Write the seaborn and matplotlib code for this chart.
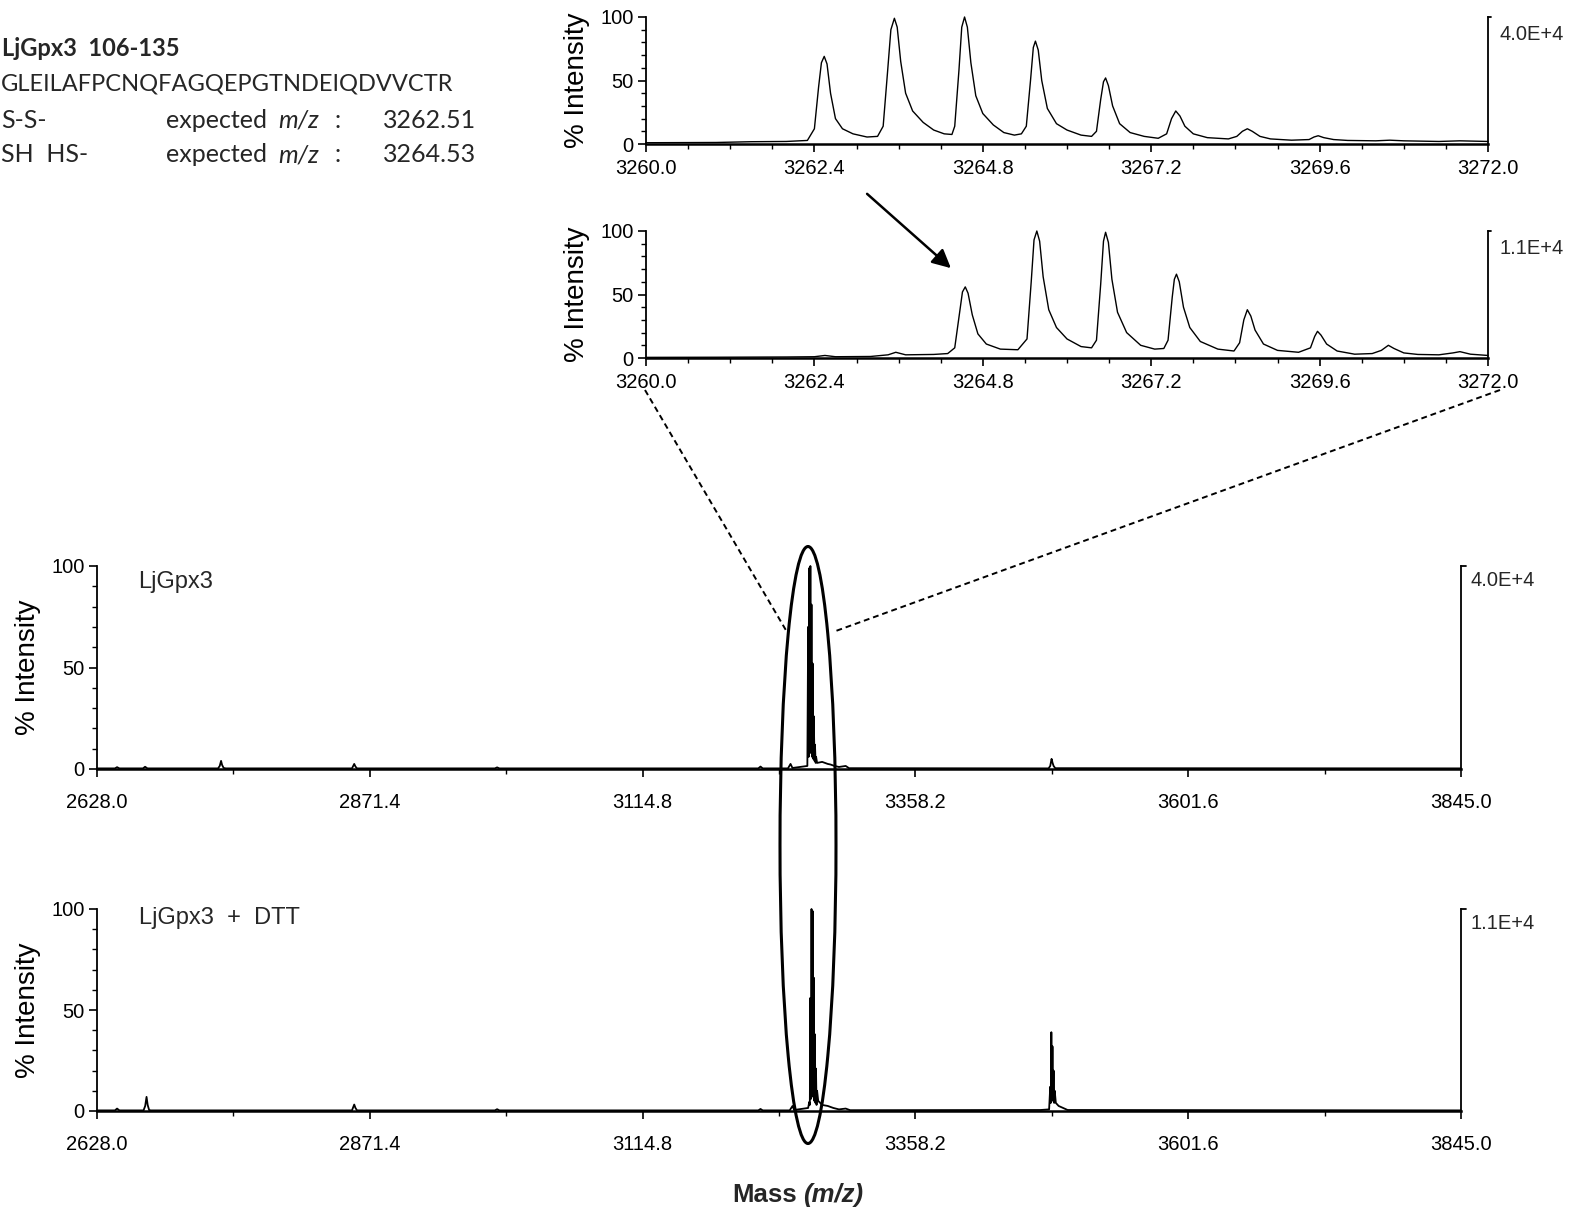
import numpy as np
import matplotlib
matplotlib.use("Agg")
import matplotlib.pyplot as plt
import seaborn as sns
from matplotlib.ticker import AutoMinorLocator, FormatStrFormatter
from matplotlib.lines import Line2D
from matplotlib.patches import Ellipse, FancyArrowPatch

# ---- data (m/z, % intensity) ----
# zoomed isotope envelope, LjGpx3 (oxidised)
zoom_ox_mz = [3260.0, 3261.0, 3261.5, 3262.0,
              3262.3, 3262.40, 3262.46, 3262.50, 3262.54, 3262.58, 3262.63, 3262.70, 3262.80, 3262.95, 3263.15, 3263.3,
              3263.38, 3263.44, 3263.49, 3263.54, 3263.58, 3263.63, 3263.70, 3263.80, 3263.95, 3264.1, 3264.25, 3264.36,
              3264.40, 3264.46, 3264.50, 3264.54, 3264.58, 3264.63, 3264.70, 3264.80, 3264.95, 3265.1, 3265.25, 3265.35,
              3265.42, 3265.48, 3265.52, 3265.55, 3265.59, 3265.64, 3265.72, 3265.85, 3266.0, 3266.2, 3266.35,
              3266.42, 3266.48, 3266.52, 3266.55, 3266.59, 3266.65, 3266.75, 3266.9, 3267.1, 3267.3,
              3267.42, 3267.49, 3267.55, 3267.61, 3267.68, 3267.8, 3268.0, 3268.3,
              3268.42, 3268.5, 3268.57, 3268.64, 3268.75, 3268.9, 3269.2, 3269.45,
              3269.52, 3269.58, 3269.66, 3269.8, 3270.0, 3270.4, 3270.6, 3270.8, 3271.3, 3271.6, 3272.0]
zoom_ox_int = [1.0, 1.2, 1.8, 2.0,
               2.8, 12, 45, 64, 69, 63, 40, 20, 12, 8, 5.5, 6,
               14, 55, 90, 99, 92, 65, 40, 26, 17, 11, 8, 7.5,
               14, 58, 92, 100, 92, 64, 38, 24, 15, 9, 7, 8,
               14, 50, 76, 81, 74, 50, 28, 16, 11, 7, 6,
               10, 35, 49, 52, 46, 30, 16, 9, 6, 4.5,
               8, 20, 26, 22, 14, 8, 5, 4,
               6, 10, 12, 10, 6, 4, 3, 3.5,
               5.5, 6.5, 5, 3.5, 2.8, 2.5, 3, 2.5, 2, 2.5, 2]

# zoomed isotope envelope, LjGpx3 + DTT (reduced)
zoom_red_mz = [3260.0, 3261.0, 3262.0, 3262.4, 3262.55, 3262.7, 3263.2, 3263.45, 3263.56, 3263.7, 3264.1, 3264.3,
               3264.40, 3264.46, 3264.51, 3264.55, 3264.59, 3264.65, 3264.73, 3264.85, 3265.05, 3265.3,
               3265.43, 3265.49, 3265.53, 3265.57, 3265.61, 3265.66, 3265.74, 3265.85, 3266.0, 3266.2, 3266.35,
               3266.42, 3266.48, 3266.52, 3266.55, 3266.59, 3266.64, 3266.72, 3266.85, 3267.05, 3267.25, 3267.38,
               3267.44, 3267.5, 3267.53, 3267.56, 3267.6, 3267.66, 3267.75, 3267.9, 3268.15, 3268.38,
               3268.46, 3268.52, 3268.57, 3268.62, 3268.68, 3268.8, 3269.0, 3269.3,
               3269.47, 3269.53, 3269.57, 3269.62, 3269.7, 3269.85, 3270.1, 3270.35,
               3270.48, 3270.58, 3270.66, 3270.8, 3271.0, 3271.3, 3271.5, 3271.6, 3271.75, 3272.0]
zoom_red_int = [0.5, 0.6, 0.8, 1.0, 2.0, 1.0, 1.2, 2.5, 4.5, 2.5, 2.8, 3.5,
                8, 32, 52, 56, 51, 34, 19, 11, 7, 6.5,
                15, 60, 93, 100, 92, 64, 38, 24, 15, 9, 8,
                14, 58, 92, 99, 91, 62, 36, 20, 10, 7, 7.5,
                14, 48, 62, 66, 60, 40, 24, 13, 7, 5.5,
                12, 30, 38, 33, 22, 11, 6, 4.5,
                8, 17, 21, 18, 11, 5.5, 3, 3.5,
                6, 10, 7.5, 4, 2.8, 2.5, 4, 5, 3, 2]

# full range spectrum, LjGpx3
full_ox_mz = [2628, 2644, 2645.9, 2648, 2669, 2670.9, 2673, 2736, 2737.5, 2738.7,
              2739.6, 2741, 2743, 2855.5, 2857.5, 2858.6, 2860, 2983, 2985, 2987,
              3218, 3220, 3222, 3244.5, 3246.8, 3248.5, 3261.8, 3262.5, 3263.0, 3263.5,
              3264.0, 3264.5, 3265.0, 3265.5, 3266.0, 3266.5, 3267.0, 3267.5, 3268.2, 3268.6,
              3269.2, 3269.6, 3270.5, 3275, 3280, 3282.5, 3286, 3290, 3296, 3299,
              3477, 3478.5, 3479.7, 3480.6, 3481.5, 3483, 3845]
full_ox_int = [0.3, 0.3, 0.9, 0.3, 0.3, 1.1, 0.3, 0.3, 1.5, 4.0,
               2.0, 0.5, 0.3, 0.3, 2.5, 1.2, 0.3, 0.3, 0.8, 0.3,
               0.3, 1.2, 0.3, 0.3, 2.5, 0.5, 1.5, 70, 6, 99,
               8, 100, 8, 81, 6, 52, 5, 26, 4, 12,
               3, 6, 3, 3.5, 2.5, 2.2, 1.5, 1.0, 1.5, 0.4,
               0.3, 1.5, 5, 3, 1.5, 0.4, 0.3]

# full range spectrum, LjGpx3 + DTT
full_red_mz = [2628, 2644, 2645.9, 2648, 2669.5, 2671, 2672.2, 2673.2, 2674.5, 2676,
               2855.5, 2857.5, 2858.6, 2860, 2983, 2985, 2987, 3218, 3220, 3222,
               3246, 3248.6, 3250, 3262.5, 3263.5, 3264.0, 3264.5, 3265.0, 3265.5, 3266.0,
               3266.5, 3267.0, 3267.5, 3268.0, 3268.5, 3269.0, 3269.5, 3270.0, 3270.5, 3271.5,
               3275, 3280, 3285, 3290, 3296, 3300, 3470, 3477.5, 3478.5, 3479.0,
               3479.5, 3480.0, 3480.5, 3481.0, 3481.5, 3482.0, 3482.5, 3483.5, 3486, 3490,
               3494, 3845]
full_red_int = [0.3, 0.3, 1.2, 0.3, 0.3, 2.5, 7, 3, 0.5, 0.3,
                0.3, 3.2, 1.5, 0.3, 0.3, 0.9, 0.3, 0.3, 1.0, 0.3,
                0.3, 2.5, 0.5, 1.5, 4.5, 3, 56, 6, 100, 8,
                99, 7, 66, 5, 38, 4, 21, 3, 10, 5,
                3, 2.5, 1.5, 0.8, 1.2, 0.4, 0.5, 0.8, 12, 4,
                39, 6, 32, 5, 20, 4, 10, 4, 2.5, 1.5,
                0.5, 0.3]

zoom_ticks = [3260.0, 3262.4, 3264.8, 3267.2, 3269.6, 3272.0]
full_ticks = [2628.0, 2871.4, 3114.8, 3358.2, 3601.6, 3845.0]
y_ticks = [0, 50, 100]
max_counts = ["4.0E+4", "1.1E+4"]
sample_names = ["LjGpx3", "LjGpx3  +  DTT"]

# ---- figure ----
sns.set_style("ticks")
plt.rcParams["font.family"] = ["Liberation Sans", "DejaVu Sans"]

W, H = 1573, 1213
fig = plt.figure(figsize=(W / 100, H / 100), dpi=100)


def rect(l, r, t, b):
    return [l / W, 1 - b / H, (r - l) / W, (b - t) / H]


def fpt(x, y):
    return (x / W, 1 - y / H)


def style_axes(ax, xticks, xminor, label_x, xpad, top_label, lab_x, lab_y):
    ax.set_ylim(0, 100)
    ax.set_xlim(xticks[0], xticks[-1])
    ax.set_xticks(xticks)
    ax.set_yticks(y_ticks)
    ax.xaxis.set_major_formatter(FormatStrFormatter("%.1f"))
    ax.xaxis.set_minor_locator(AutoMinorLocator(xminor))
    ax.yaxis.set_minor_locator(AutoMinorLocator(5))
    ax.tick_params(axis="both", which="major", labelsize=14.5, length=6, width=1.2,
                   color="black", labelcolor="black", pad=3)
    ax.tick_params(axis="x", which="major", pad=xpad)
    ax.tick_params(axis="both", which="minor", length=3.5, width=1, color="black")
    for s in ["left", "bottom", "right"]:
        ax.spines[s].set_visible(True)
        ax.spines[s].set_color("black")
    ax.spines["left"].set_linewidth(1.3)
    ax.spines["bottom"].set_linewidth(1.8)
    ax.spines["right"].set_linewidth(1.3)
    ax.spines["top"].set_visible(False)
    ax.set_xlabel("")
    ax.set_ylabel("% Intensity", fontsize=20, color="black")
    ax.yaxis.set_label_coords(label_x, 0.5)
    ax.text(lab_x, lab_y, top_label, transform=ax.transAxes, fontsize=14.5,
            ha="left", va="top")
    ax.plot([1, 1.004], [1, 1], transform=ax.transAxes, color="black", lw=1.3,
            clip_on=False)
    for ln in ax.lines:
        ln.set_clip_on(False)
    ax.set_facecolor("none")


ax_z1 = fig.add_axes(rect(646, 1488, 17, 144))
sns.lineplot(x=zoom_ox_mz, y=zoom_ox_int, ax=ax_z1, color="black", linewidth=1.0,
             estimator=None, sort=False)
style_axes(ax_z1, zoom_ticks, 4, -0.066, 5, max_counts[0], 1.014, 0.94)

ax_z2 = fig.add_axes(rect(646, 1488, 231, 358))
sns.lineplot(x=zoom_red_mz, y=zoom_red_int, ax=ax_z2, color="black", linewidth=1.0,
             estimator=None, sort=False)
style_axes(ax_z2, zoom_ticks, 4, -0.066, 5, max_counts[1], 1.014, 0.94)

ax_f1 = fig.add_axes(rect(97, 1461, 566, 769))
sns.lineplot(x=full_ox_mz, y=full_ox_int, ax=ax_f1, color="black", linewidth=1.3,
             estimator=None, sort=False)
style_axes(ax_f1, full_ticks, 2, -0.041, 11, max_counts[0], 1.007, 0.975)
ax_f1.text(0.03, 0.92, sample_names[0], transform=ax_f1.transAxes, fontsize=17,
           ha="left", va="center")

ax_f2 = fig.add_axes(rect(97, 1461, 909, 1111))
sns.lineplot(x=full_red_mz, y=full_red_int, ax=ax_f2, color="black", linewidth=1.3,
             estimator=None, sort=False)
style_axes(ax_f2, full_ticks, 2, -0.041, 11, max_counts[1], 1.007, 0.975)
ax_f2.text(0.031, 0.955, sample_names[1], transform=ax_f2.transAxes, fontsize=17,
           ha="left", va="center")

# x axis title
fig.text(*fpt(797, 1195), "Mass", fontsize=18.5, fontweight="bold", ha="right", va="center")
fig.text(*fpt(803, 1195), "(m/z)", fontsize=18.5, fontweight="bold", fontstyle="italic",
         ha="left", va="center")

# peptide info, top left
tf = ["Lato", "DejaVu Sans"]
fig.text(*fpt(2, 48), "LjGpx3  106-135", family=tf, fontsize=17, fontweight="bold",
         ha="left", va="center")
fig.text(*fpt(1, 84), "GLEILAFPCNQFAGQEPGTNDEIQDVVCTR", family=tf, fontsize=17,
         ha="left", va="center")
for yy, lab, val in [(120, "S-S-", "3262.51"), (155, "SH  HS-", "3264.53")]:
    fig.text(*fpt(1, yy), lab, family=tf, fontsize=18, ha="left", va="center")
    fig.text(*fpt(166, yy), "expected", family=tf, fontsize=18, ha="left", va="center")
    fig.text(*fpt(278, yy), "m/z", family=tf, fontsize=18, fontstyle="italic",
             ha="left", va="center")
    fig.text(*fpt(334, yy), ":", family=tf, fontsize=18, ha="left", va="center")
    fig.text(*fpt(383, yy), val, family=tf, fontsize=18, ha="left", va="center")

# zoom guide lines, arrow and ellipse
fig.add_artist(Line2D([645 / W, 787 / W], [1 - 390 / H, 1 - 632 / H], color="black",
                      lw=1.4, ls=(0, (3, 2))))
fig.add_artist(Line2D([1500 / W, 833 / W], [1 - 390 / H, 1 - 632 / H], color="black",
                      lw=1.4, ls=(0, (3, 2))))
fig.add_artist(FancyArrowPatch(fpt(865, 192), fpt(953, 270), transform=fig.transFigure,
                               arrowstyle="-|>", mutation_scale=28, color="black", lw=1.8))
fig.add_artist(Ellipse(fpt(808, 845), 56 / W, 597 / H, transform=fig.transFigure,
                       fill=False, edgecolor="black", lw=2.2))

fig.savefig("out.png", dpi=100, facecolor="white")
